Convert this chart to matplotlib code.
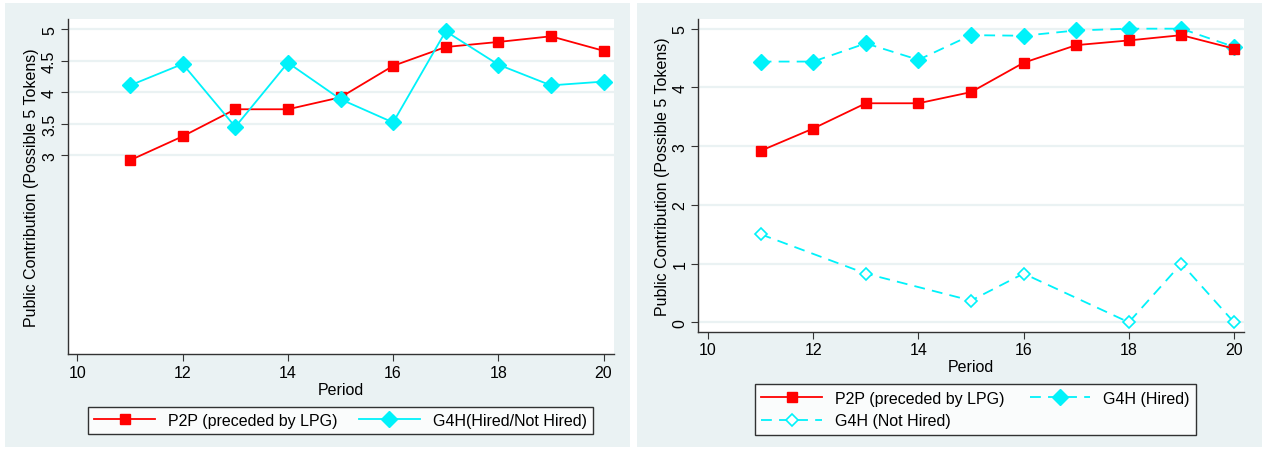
import matplotlib
matplotlib.use("Agg")
import matplotlib.pyplot as plt
from matplotlib.patches import Rectangle

plt.rcParams['font.family'] = ['Liberation Sans', 'DejaVu Sans']

periods = [11, 12, 13, 14, 15, 16, 17, 18, 19, 20]
p2p = [2.92, 3.30, 3.73, 3.73, 3.92, 4.42, 4.72, 4.80, 4.89, 4.66]
g4h_all = [4.11, 4.45, 3.45, 4.47, 3.89, 3.52, 4.97, 4.44, 4.11, 4.17]
g4h_hired = [4.44, 4.44, 4.75, 4.47, 4.89, 4.88, 4.97, 5.0, 5.0, 4.69]
nothired_periods = [11, 13, 15, 16, 18, 19, 20]
g4h_nothired = [1.5, 0.83, 0.37, 0.83, 0.0, 1.0, 0.0]

left_yticks = [3, 3.5, 4, 4.5, 5]
left_yticklabels = ['3', '3.5', '4', '4.5', '5']
right_yticks = [0, 1, 2, 3, 4, 5]
xticks = [10, 12, 14, 16, 18, 20]

W, H = 1270, 452
bg = '#EAF2F3'
red = '#FF0000'
cyan = '#00F2FA'

fig = plt.figure(figsize=(W / 100, H / 100), dpi=100)


def px(x0, y0, x1, y1):
    # pixel box (top-left origin) -> figure fraction [left, bottom, w, h]
    return [x0 / W, 1 - y1 / H, (x1 - x0) / W, (y1 - y0) / H]


for x0, x1 in [(5, 630), (637, 1262)]:
    b = px(x0, 4, x1, 448)
    fig.patches.append(Rectangle((b[0], b[1]), b[2], b[3], transform=fig.transFigure,
                                 facecolor=bg, edgecolor='none', zorder=-10))


def style(ax, yticks, ylabels):
    ax.set_xlim(9.81, 20.19)
    ax.set_ylim(-0.165, 5.165)
    ax.set_xticks(xticks)
    ax.set_yticks(yticks)
    ax.set_yticklabels(ylabels, rotation=90, va='center')
    for y in yticks:
        ax.axhline(y, color=bg, lw=1.6, zorder=1)
    for s in ['top', 'right']:
        ax.spines[s].set_visible(False)
    for s in ['left', 'bottom']:
        ax.spines[s].set_color('#333333')
        ax.spines[s].set_linewidth(1.0)
    ax.tick_params(direction='out', length=5, width=0.8, color='#333333',
                   labelsize=11.5, pad=2.5)
    ax.set_xlabel('Period', fontsize=11.5, labelpad=1.5)
    ax.set_ylabel('Public Contribution (Possible 5 Tokens)', fontsize=11.5, labelpad=2)


# left panel
ax1 = fig.add_axes(px(67.5, 20, 613.5, 355.3))
style(ax1, left_yticks, left_yticklabels)
ax1.plot(periods, p2p, color=red, lw=1.3, marker='s', ms=7, zorder=3,
         label='P2P (preceded by LPG)')
ax1.plot(periods, g4h_all, color=cyan, lw=1.3, marker='D', ms=8, zorder=3,
         label='G4H(Hired/Not Hired)')
leg1 = ax1.legend(loc='center', bbox_to_anchor=px(88, 407, 593, 436),
                  bbox_transform=fig.transFigure, mode='expand', ncol=2,
                  fontsize=11.5, handlelength=3.8, frameon=True, fancybox=False,
                  borderaxespad=0, borderpad=0.4, columnspacing=2.5)
leg1.get_frame().set_edgecolor('black')
leg1.get_frame().set_linewidth(1.0)

# right panel
ax2 = fig.add_axes(px(698, 20, 1244, 333))
style(ax2, right_yticks, [str(t) for t in right_yticks])
h1, = ax2.plot(periods, p2p, color=red, lw=1.3, marker='s', ms=7, zorder=4,
               label='P2P (preceded by LPG)')
h2, = ax2.plot(periods, g4h_hired, color=cyan, lw=1.3, ls=(0, (6, 4)), marker='D', ms=8,
               zorder=3, label='G4H (Hired)')
h3, = ax2.plot(nothired_periods, g4h_nothired, color=cyan, lw=1.3, ls=(0, (6, 4)),
               marker='D', ms=6.5, mfc='white', mec=cyan, mew=1.2, zorder=3,
               label='G4H (Not Hired)')
leg2 = ax2.legend(handles=[h1, h3, h2], loc='center', bbox_to_anchor=px(755, 385, 1196, 436),
                  bbox_transform=fig.transFigure, mode='expand', ncol=2,
                  fontsize=11.5, handlelength=3.8, frameon=True, fancybox=False,
                  borderaxespad=0, borderpad=0.4, columnspacing=2.5, labelspacing=0.5)
leg2.get_frame().set_edgecolor('black')
leg2.get_frame().set_linewidth(1.0)

fig.savefig('out.png', dpi=100)
